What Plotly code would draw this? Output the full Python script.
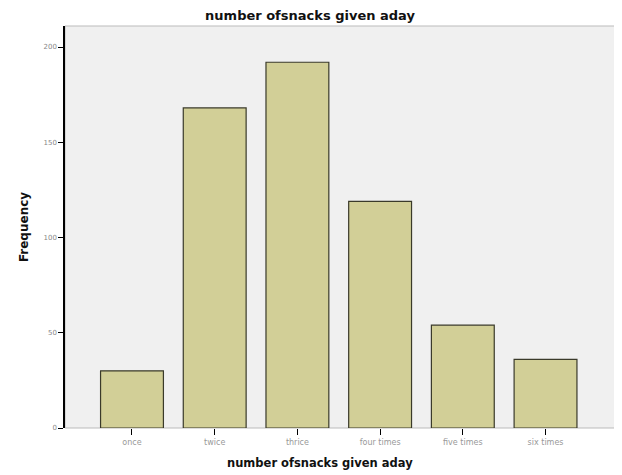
import plotly.graph_objects as go

categories = ["once", "twice", "thrice", "four times", "five times", "six times"]
frequencies = [30, 168, 192, 119, 54, 36]
y_ticks = [0, 50, 100, 150, 200]

# The page adds an 8px body margin, so the figure is 8px smaller than the window.
W, H = 614, 467
ML, MR, MT, MB = 57, 7, 18, 47
plot_w = W - ML - MR
plot_h = H - MT - MB
px_per_unit = (428 - 47) / 200.0

fig = go.Figure()
fig.add_trace(go.Bar(
    x=categories,
    y=frequencies,
    marker=dict(color="#D2CF97", line=dict(color="#3a3a2a", width=1.2)),
    width=0.76,
))

fig.update_layout(
    width=W, height=H,
    margin=dict(l=ML, r=MR, t=MT, b=MB),
    paper_bgcolor="white",
    plot_bgcolor="#F0F0F0",
    showlegend=False,
    title=dict(text="<b>number ofsnacks given aday</b>", x=(310 - 8) / W, xanchor="center",
               y=1 - 7 / H, yanchor="middle",
               font=dict(family="DejaVu Sans", size=13, color="#111111")),
    font=dict(family="DejaVu Sans"),
)
fig.update_xaxes(
    type="category", range=[-0.81, 5.84],
    showgrid=False, showline=False, zeroline=False,
    ticks="outside", ticklen=6, tickcolor="black", tickwidth=1,
    tickfont=dict(size=8, color="#999999"),
)
fig.add_annotation(
    text="<b>number ofsnacks given aday</b>",
    xref="paper", yref="paper", x=(320 - 8 - ML) / plot_w, y=0,
    xanchor="center", yanchor="middle", yshift=-35, showarrow=False,
    font=dict(family="DejaVu Sans", size=11.5, color="#111111"),
)
fig.update_yaxes(
    range=[0, plot_h / px_per_unit],
    tickvals=y_ticks,
    showgrid=False, zeroline=False,
    showline=True, linecolor="black", linewidth=1.5,
    ticks="outside", ticklen=5, tickcolor="black",
    tickfont=dict(size=7, color="#888888"),
    title=dict(text="<b>Frequency</b>", standoff=12,
               font=dict(size=12, color="#111111")),
)
fig.add_shape(type="rect", xref="paper", yref="paper", x0=0, x1=1, y0=0, y1=1,
              line=dict(color="#BBBBBB", width=1), layer="below")

fig.write_html("out.html")
